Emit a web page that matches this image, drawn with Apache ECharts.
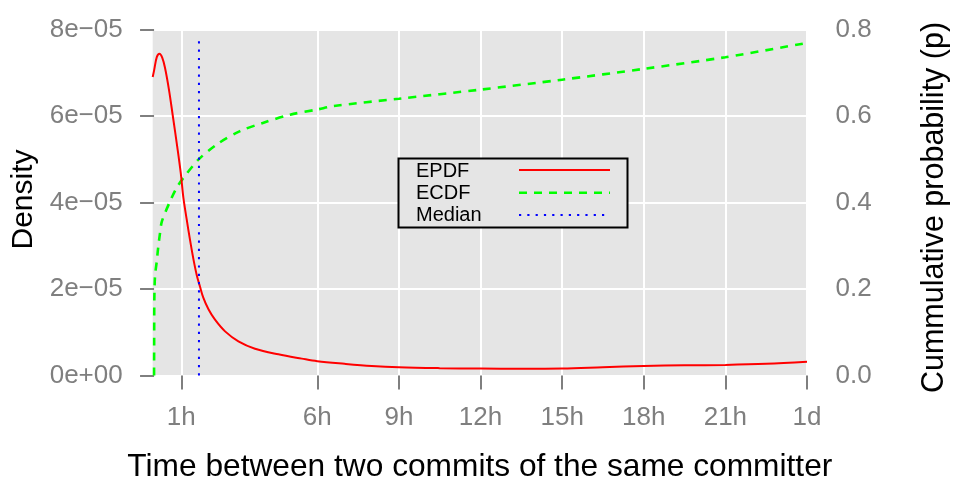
<!DOCTYPE html>
<html>
<head>
<meta charset="utf-8">
<script src="https://cdn.jsdelivr.net/npm/echarts@6/dist/echarts.min.js"></script>
<style>html,body{margin:0;padding:0;background:#fff;}#c{width:953px;height:487px;}</style>
</head>
<body>
<div id="c"></div>
<script>
// ---- data ----
var epdfHours = [-0.05, 0.0, 0.1, 0.2, 0.3, 0.4, 0.55, 0.69, 0.85, 0.98, 1.08, 1.20, 1.32, 1.45, 1.57, 1.69, 1.81, 2.0, 2.24, 2.61, 3.10, 3.71, 4.57, 5.43, 6.0, 7.0, 8.0, 9.0, 10.5, 12.0, 13.5, 15.0, 16.5, 18.0, 19.5, 21.0, 22.5, 24.0];
var epdfDensity = [6.9e-5, 7.05e-5, 7.36e-5, 7.44e-5, 7.35e-5, 7.12e-5, 6.6e-5, 6.0e-5, 5.3e-5, 4.69e-5, 4.1e-5, 3.61e-5, 3.14e-5, 2.68e-5, 2.32e-5, 2.05e-5, 1.80e-5, 1.53e-5, 1.29e-5, 1.02e-5, 0.79e-5, 0.62e-5, 0.49e-5, 0.39e-5, 0.33e-5, 0.27e-5, 0.22e-5, 0.19e-5, 0.17e-5, 0.16e-5, 0.155e-5, 0.16e-5, 0.19e-5, 0.22e-5, 0.235e-5, 0.245e-5, 0.27e-5, 0.32e-5];
var ecdfHours = [0.0, 0.004, 0.01, 0.035, 0.1, 0.15, 0.22, 0.29, 0.59, 0.83, 1.08, 1.63, 2.3, 3.16, 4.0, 5.0, 6.0, 6.6, 9.0, 12.0, 15.0, 18.0, 21.0, 24.0];
var ecdfProb = [0.0, 0.08, 0.176, 0.23, 0.264, 0.295, 0.33, 0.357, 0.403, 0.434, 0.457, 0.499, 0.534, 0.565, 0.584, 0.603, 0.615, 0.623, 0.640, 0.661, 0.684, 0.709, 0.736, 0.769];
var medianHour = 1.65;
var medianTop = 7.86e-5;
var xTickValues = [1, 6, 9, 12, 15, 18, 21, 24];
var xTickLabels = ['1h', '6h', '9h', '12h', '15h', '18h', '21h', '1d'];
var leftTickLabels = ['0e+00', '2e\u221205', '4e\u221205', '6e\u221205', '8e\u221205'];
var rightTickLabels = ['0.0', '0.2', '0.4', '0.6', '0.8'];
var legendNames = ['EPDF', 'ECDF', 'Median'];

var FONT = "'Liberation Sans', Arial, Helvetica, sans-serif";
var GRAY = '#7f7f7f';

var epdfData = epdfHours.map(function (h, i) { return [h, epdfDensity[i]]; });
var ecdfData = ecdfHours.map(function (h, i) { return [h, ecdfProb[i]]; });
var medianData = [[medianHour, 0], [medianHour, medianTop]];

var chart = echarts.init(document.getElementById('c'), null, {renderer: 'canvas'});
var gl = 152.7, gr = 807, gt = 29.5, gb = 375.5;

var option = {
  animation: false,
  backgroundColor: '#ffffff',
  grid: {
    left: gl, right: 953 - gr, top: gt, bottom: 487 - gb,
    outerBoundsMode: 'none', containLabel: false,
    show: true, backgroundColor: '#e5e5e5', borderWidth: 0
  },
  xAxis: {
    type: 'value', min: -0.05, max: 24.0, offset: 2,
    axisLine: {show: false},
    axisTick: {show: true, length: 14, customValues: xTickValues, lineStyle: {color: GRAY, width: 2}},
    axisLabel: {
      customValues: xTickValues, margin: 27, fontSize: 26, color: GRAY, fontFamily: FONT,
      formatter: function (v) { var i = xTickValues.indexOf(Math.round(v)); return i >= 0 ? xTickLabels[i] : ''; }
    },
    splitLine: {show: true, lineStyle: {color: '#ffffff', width: 2}},
    name: 'Time between two commits of the same committer',
    nameLocation: 'middle', nameGap: 74,
    nameTextStyle: {fontSize: 31.7, color: '#000', fontFamily: FONT}
  },
  yAxis: [{
    type: 'value', min: 0, max: 8e-5, interval: 2e-5,
    axisLine: {show: false},
    axisTick: {show: true, length: 14, lineStyle: {color: GRAY, width: 2}},
    axisLabel: {
      margin: 30, fontSize: 26, color: GRAY, fontFamily: FONT,
      formatter: function (v) { return leftTickLabels[Math.round(v / 2e-5)]; }
    },
    splitLine: {show: true, lineStyle: {color: '#ffffff', width: 2}},
    name: 'Density', nameLocation: 'middle', nameGap: 112, nameRotate: 90,
    nameTextStyle: {fontSize: 30, color: '#000', fontFamily: FONT, padding: [0, 0, 0, 6]}
  }, {
    type: 'value', min: 0, max: 0.8, interval: 0.2, position: 'right',
    axisLine: {show: false}, axisTick: {show: false},
    axisLabel: {
      margin: 28.5, fontSize: 26, color: GRAY, fontFamily: FONT,
      formatter: function (v) { return rightTickLabels[Math.round(v / 0.2)]; }
    },
    splitLine: {show: false},
    name: 'Cummulative probability (p)', nameLocation: 'middle', nameGap: 112, nameRotate: 90,
    nameTextStyle: {fontSize: 30.5, color: '#000', fontFamily: FONT, padding: [0, 10, 0, 0]}
  }],
  series: [{
    name: legendNames[0], type: 'line', yAxisIndex: 0, data: epdfData,
    symbol: 'none', smooth: 0.35, clip: true,
    lineStyle: {color: '#ff0000', width: 2}, z: 3
  }, {
    name: legendNames[1], type: 'line', yAxisIndex: 1, data: ecdfData,
    symbol: 'none', smooth: 0.3, clip: true,
    lineStyle: {color: '#00ff00', width: 2.6, type: [8, 7]}, z: 2
  }, {
    name: legendNames[2], type: 'line', yAxisIndex: 0, data: medianData,
    symbol: 'none',
    lineStyle: {color: '#0000ff', width: 2, type: [2.2, 6.1]}, z: 4
  }],
  graphic: {
    elements: [
      {type: 'rect', z: 100, shape: {x: 398.5, y: 158.5, width: 229, height: 69},
       style: {fill: '#e5e5e5', stroke: '#000', lineWidth: 2}},
      {type: 'text', z: 101, x: 416, y: 171.5, style: {text: legendNames[0], font: '20px ' + FONT, fill: '#000', verticalAlign: 'middle'}},
      {type: 'text', z: 101, x: 416, y: 193, style: {text: legendNames[1], font: '20px ' + FONT, fill: '#000', verticalAlign: 'middle'}},
      {type: 'text', z: 101, x: 416, y: 215.5, style: {text: legendNames[2], font: '20px ' + FONT, fill: '#000', verticalAlign: 'middle'}},
      {type: 'line', z: 101, shape: {x1: 519, y1: 170, x2: 610, y2: 170}, style: {stroke: '#ff0000', lineWidth: 2}},
      {type: 'line', z: 101, shape: {x1: 519, y1: 192.7, x2: 610, y2: 192.7}, style: {stroke: '#00ff00', lineWidth: 2.6, lineDash: [8, 7]}},
      {type: 'line', z: 101, shape: {x1: 519, y1: 215, x2: 610, y2: 215}, style: {stroke: '#0000ff', lineWidth: 2, lineDash: [2.2, 6.1]}}
    ]
  }
};
chart.setOption(option);
</script>
</body>
</html>
